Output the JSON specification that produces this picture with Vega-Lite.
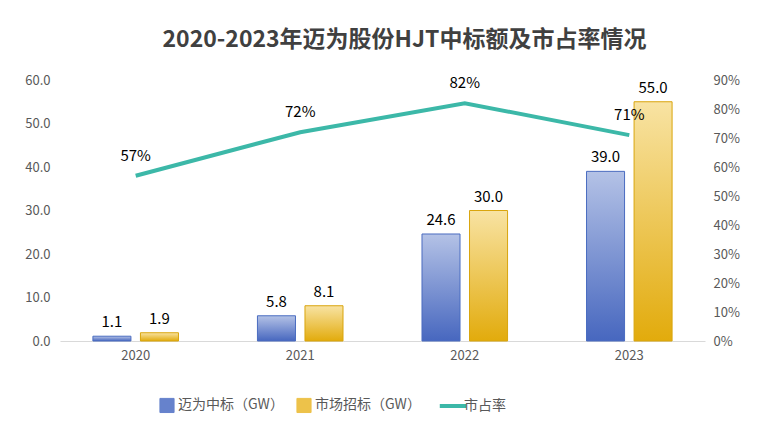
{
  "$schema": "https://vega.github.io/schema/vega-lite/v6.json",
  "width": 645,
  "height": 261,
  "autosize": "none",
  "padding": {"left": 60, "top": 80, "right": 63, "bottom": 101},
  "background": "#ffffff",
  "config": {
    "font": "Noto Sans CJK SC",
    "view": {"stroke": null},
    "axis": {"labelColor": "#595959", "labelFontSize": 13, "grid": false, "ticks": false, "domain": false, "title": null}
  },
  "title": {"text": "2020-2023年迈为股份HJT中标额及市占率情况", "fontSize": 23, "fontWeight": "bold", "color": "#404040", "anchor": "middle", "offset": 22, "dx": 22},
  "data": {"values": [
    {"year": "2020", "s": "迈为中标（GW）", "v": 1.1},
    {"year": "2020", "s": "市场招标（GW）", "v": 1.9},
    {"year": "2021", "s": "迈为中标（GW）", "v": 5.8},
    {"year": "2021", "s": "市场招标（GW）", "v": 8.1},
    {"year": "2022", "s": "迈为中标（GW）", "v": 24.6},
    {"year": "2022", "s": "市场招标（GW）", "v": 30.0},
    {"year": "2023", "s": "迈为中标（GW）", "v": 39.0},
    {"year": "2023", "s": "市场招标（GW）", "v": 55.0},
    {"year": "2020", "s": "市占率", "r": 0.57},
    {"year": "2021", "s": "市占率", "r": 0.72},
    {"year": "2022", "s": "市占率", "r": 0.82},
    {"year": "2023", "s": "市占率", "r": 0.71}
  ]},
  "encoding": {
    "x": {"field": "year", "type": "nominal", "scale": {"paddingInner": 0.48, "paddingOuter": 0.2},
      "axis": {"labelAngle": 0, "domain": true, "domainColor": "#d9d9d9", "labelPadding": 8}}
  },
  "layer": [
    {
      "transform": [{"filter": "datum.s != '市占率'"}],
      "encoding": {
        "xOffset": {"field": "s", "type": "nominal", "sort": ["迈为中标（GW）", "市场招标（GW）"], "scale": {"paddingInner": 0.2}},
        "y": {"field": "v", "type": "quantitative", "scale": {"domain": [0, 60]}, "axis": {"format": ".1f", "tickCount": 7, "labelPadding": 10}}
      },
      "layer": [
        {"transform": [{"filter": "datum.s == '迈为中标（GW）'"}],
          "mark": {"type": "bar", "stroke": "#4a6cc0", "strokeWidth": 1, "color": {"gradient": "linear", "x1": 0, "y1": 0, "x2": 0, "y2": 1, "stops": [{"offset": 0, "color": "#b4c2e6"}, {"offset": 1, "color": "#4767bf"}]}}},
        {"transform": [{"filter": "datum.s == '市场招标（GW）'"}],
          "mark": {"type": "bar", "stroke": "#d9a50d", "strokeWidth": 1, "color": {"gradient": "linear", "x1": 0, "y1": 0, "x2": 0, "y2": 1, "stops": [{"offset": 0, "color": "#f8e3a3"}, {"offset": 1, "color": "#e2ab0c"}]}}},
        {"mark": {"type": "text", "dy": -14, "fontSize": 15, "color": "#000000"},
          "encoding": {"text": {"field": "v", "type": "quantitative", "format": ".1f"}}}
      ]
    },
    {
      "transform": [{"filter": "datum.s == '市占率'"}],
      "encoding": {
        "y": {"field": "r", "type": "quantitative", "scale": {"domain": [0, 0.9]}, "axis": {"orient": "right", "format": ".0%", "tickCount": 10, "labelPadding": 8}}
      },
      "layer": [
        {"mark": {"type": "line", "strokeWidth": 4},
          "encoding": {"color": {"field": "s", "type": "nominal",
            "scale": {"domain": ["迈为中标（GW）", "市场招标（GW）", "市占率"], "range": ["#6682cc", "#edc24a", "#3cb8a8"]},
            "legend": {"orient": "none", "legendX": 100, "legendY": 318, "title": null, "direction": "horizontal", "labelFontSize": 14, "labelColor": "#595959", "symbolSize": 200, "symbolStrokeWidth": 4, "columnPadding": 10,
              "encode": {"symbols": {"update": {
                "shape": {"signal": "datum.value == '市占率' ? 'stroke' : 'square'"},
                "size": {"signal": "datum.value == '市占率' ? 700 : 200"},
                "fill": {"signal": "datum.value == '市占率' ? 'transparent' : (datum.value == '迈为中标（GW）' ? '#6682cc' : '#edc24a')"},
                "strokeWidth": {"signal": "datum.value == '市占率' ? 4 : 1"}}}}}}}},
        {"mark": {"type": "text", "dy": -20, "fontSize": 15, "color": "#000000"},
          "encoding": {"text": {"field": "r", "type": "quantitative", "format": ".0%"}}}
      ]
    }
  ],
  "resolve": {"scale": {"y": "independent"}}
}
